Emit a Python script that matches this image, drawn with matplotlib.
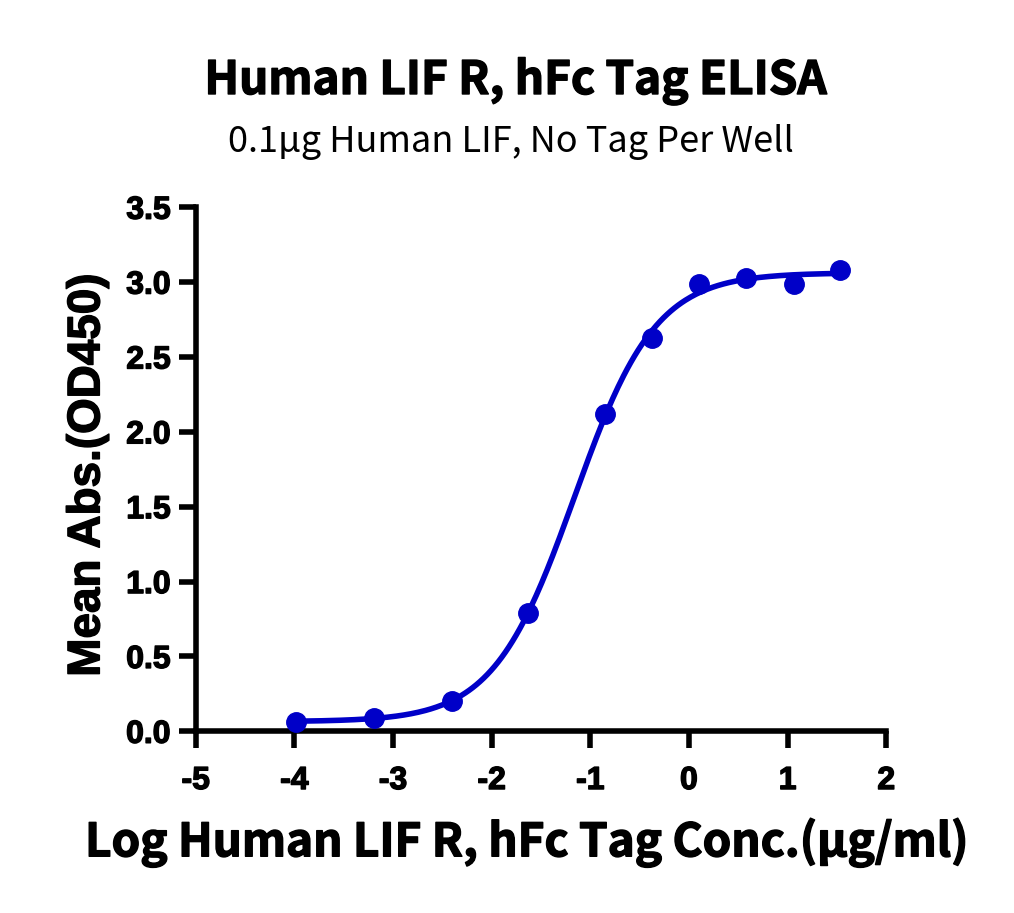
import numpy as np
import matplotlib
matplotlib.use("Agg")
import matplotlib.pyplot as plt
import matplotlib.patheffects as pe

# data
log_conc = np.array([-3.98, -3.19, -2.40, -1.63, -0.85, -0.37, 0.10, 0.58, 1.06, 1.53])
mean_abs = np.array([0.065, 0.090, 0.205, 0.79, 2.12, 2.63, 2.99, 3.03, 2.99, 3.08])

title = "Human LIF R, hFc Tag ELISA"
subtitle = "0.1µg Human LIF, No Tag Per Well"
xlabel = "Log Human LIF R, hFc Tag Conc.(µg/ml)"
ylabel = "Mean Abs.(OD450)"
xticks = [-5, -4, -3, -2, -1, 0, 1, 2]
yticks = [0.0, 0.5, 1.0, 1.5, 2.0, 2.5, 3.0, 3.5]

blue = "#0000C8"
txt_font = ["Noto Sans CJK SC", "DejaVu Sans"]
heavy = [pe.withStroke(linewidth=1.0, foreground="black")]


def four_pl(x, p):
    bottom, top, logec50, hill = p
    return bottom + (top - bottom) / (1 + 10 ** ((logec50 - x) * hill))


def fit_4pl(x, y, p0):
    # small Levenberg-Marquardt loop, numpy only
    p = np.array(p0, dtype=float)
    lam = 1e-3
    for _ in range(200):
        r = y - four_pl(x, p)
        J = np.zeros((len(x), 4))
        for i in range(4):
            dp = np.zeros(4)
            dp[i] = 1e-6
            J[:, i] = (four_pl(x, p + dp) - four_pl(x, p)) / 1e-6
        A = J.T @ J
        step = np.linalg.solve(A + lam * np.diag(np.diag(A)), J.T @ r)
        pn = p + step
        if np.sum((y - four_pl(x, pn)) ** 2) < np.sum(r ** 2):
            p = pn
            lam *= 0.5
        else:
            lam *= 4
    return p


params = fit_4pl(log_conc, mean_abs, [0.07, 3.07, -1.2, 1.1])
xs = np.linspace(log_conc.min(), log_conc.max(), 300)

fig = plt.figure(figsize=(10.14, 9.13), dpi=100)
ax = fig.add_axes([0.193, 0.199, 0.681, 0.574])

ax.plot(xs, four_pl(xs, params), color=blue, lw=4, zorder=2)
ax.plot(log_conc, mean_abs, "o", color=blue, ms=14, zorder=3, clip_on=False)

ax.set_xlim(-5, 2)
ax.set_ylim(0, 3.5)
ax.set_xticks(xticks)
ax.set_xticklabels([str(t) for t in xticks])
ax.set_yticks(yticks)
ax.set_yticklabels([f"{t:.1f}" for t in yticks])

for s in ["top", "right"]:
    ax.spines[s].set_visible(False)
for s in ["left", "bottom"]:
    ax.spines[s].set_linewidth(4)
ax.tick_params(width=4, length=12, direction="out")
ax.tick_params(axis="x", pad=13)
ax.tick_params(axis="y", pad=6)
for lab in ax.get_xticklabels() + ax.get_yticklabels():
    lab.set_fontfamily("Liberation Sans")
    lab.set_fontweight("bold")
    lab.set_fontsize(23)
    lab.set_path_effects(heavy)

ax.set_xlabel(xlabel, fontsize=33, fontweight="bold", family=txt_font,
              path_effects=heavy)
ax.xaxis.set_label_coords(0.479, -0.2385)
ax.xaxis.label.set_va("baseline")

ax.set_ylabel(ylabel, fontsize=33, fontweight="bold", family="Liberation Sans",
              path_effects=heavy, labelpad=12)
ax.yaxis.label.set_y(0.4895)

fig.text(0.508, 1 - 94 / 913, title, ha="center", va="baseline", fontsize=33,
         fontweight="bold", family=txt_font, path_effects=heavy)
fig.text(0.504, 1 - 151.5 / 913, subtitle, ha="center", va="baseline", fontsize=26,
         family=txt_font)

fig.savefig("out.png", dpi=100)
